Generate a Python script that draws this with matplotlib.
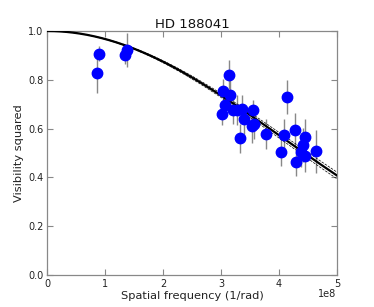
import numpy as np
import matplotlib
matplotlib.use("Agg")
import matplotlib.pyplot as plt
from math import factorial

# data (spatial frequency in 1e8 1/rad, V^2, error)
sf = [0.87, 0.90, 1.34, 1.38, 3.03, 3.14, 3.07, 3.02, 3.15, 3.20, 3.28, 3.37,
      3.39, 3.32, 3.55, 3.53, 3.57, 3.78, 4.08, 4.04, 4.14, 4.28, 4.29, 4.45,
      4.41, 4.38, 4.45, 4.63]
v2 = [0.827, 0.907, 0.903, 0.921, 0.754, 0.821, 0.695, 0.660, 0.739, 0.676, 0.676, 0.679,
      0.639, 0.561, 0.678, 0.611, 0.619, 0.578, 0.574, 0.504, 0.730, 0.596, 0.464, 0.564,
      0.533, 0.504, 0.486, 0.508]
err = [0.08, 0.03, 0.04, 0.07, 0.05, 0.06, 0.05, 0.045, 0.06, 0.056, 0.06, 0.06,
       0.06, 0.06, 0.04, 0.07, 0.06, 0.06, 0.065, 0.056, 0.07, 0.07, 0.06, 0.075,
       0.07, 0.06, 0.065, 0.088]

theta = 1.16e-9      # uniform-disk diameter (rad)
theta_err = 0.02e-9

def j1(z):
    s = np.zeros_like(z)
    for k in range(25):
        s += (-1) ** k * (z / 2) ** (2 * k + 1) / (factorial(k) * factorial(k + 1))
    return s

def ud_v2(x, th):
    z = np.pi * th * x
    z = np.where(z == 0, 1e-12, z)
    return (2 * j1(z) / z) ** 2

fig = plt.figure(figsize=(3.74, 3.07), dpi=100)
ax = fig.add_axes([0.1257, 0.104, 0.7755, 0.795])

xm = np.linspace(0, 5e8, 400)
ax.plot(xm, ud_v2(xm, theta), color="black", lw=1.6, zorder=3)
ax.plot(xm, ud_v2(xm, theta + theta_err), color="black", lw=0.5, ls="--", zorder=3)
ax.plot(xm, ud_v2(xm, theta - theta_err), color="black", lw=0.5, ls="--", zorder=3)

x = np.array(sf) * 1e8
ax.errorbar(x, v2, yerr=err, fmt="none", ecolor="#888888", elinewidth=1.0, zorder=2)
ax.plot(x, v2, "o", color="blue", mec="blue", ms=7.5, zorder=4)

ax.set_xlim(0, 5e8)
ax.set_ylim(0, 1.0)
ax.set_yticks(np.arange(0, 1.01, 0.2))
ax.set_xticks(np.arange(0, 5.01e8, 1e8))
ax.tick_params(direction="in", top=True, right=True, labelsize=7, length=4,
               color="#888888", pad=2.5, labelcolor="#222222")
ax.xaxis.get_offset_text().set_visible(False)
ax.text(0.998, -0.058, "1e8", transform=ax.transAxes, ha="right", va="top",
        fontsize=7, color="#222222")
ax.set_xlabel("Spatial frequency (1/rad)", fontsize=8.2, labelpad=2, color="#222222")
ax.set_ylabel("Visibility squared", fontsize=8.2, labelpad=3, color="#222222")
ax.set_title("HD 188041", fontsize=9.5, pad=2.5, color="#111111")
for s in ax.spines.values():
    s.set_color("#888888")
    s.set_linewidth(0.9)

fig.savefig("out.png", dpi=100)
